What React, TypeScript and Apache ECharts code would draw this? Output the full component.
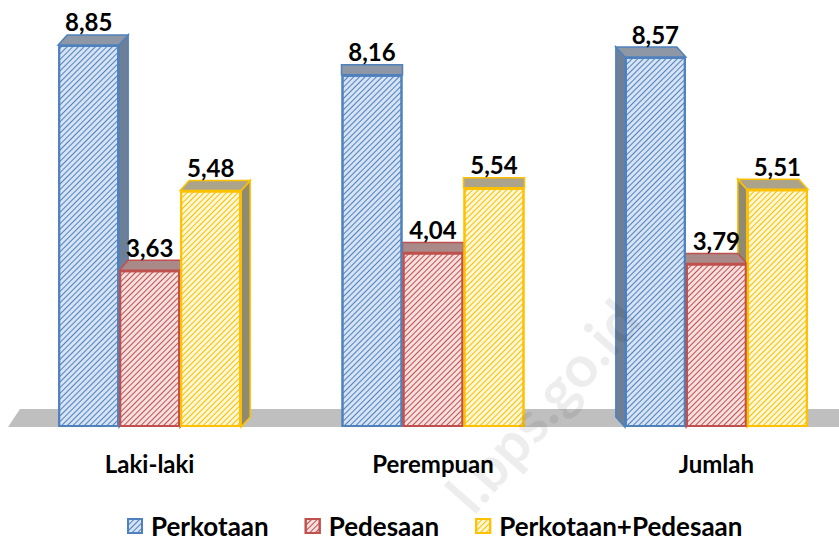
import React, { useEffect, useRef } from 'react';
import * as echarts from 'echarts';

const categories = ['Laki-laki', 'Perempuan', 'Jumlah'];
const seriesNames = ['Perkotaan', 'Pedesaan', 'Perkotaan+Pedesaan'];
const perkotaan = [8.85, 8.16, 8.57];
const pedesaan = [3.63, 4.04, 3.79];
const gabungan = [5.48, 5.54, 5.51];
const allValues = [perkotaan, pedesaan, gabungan];

const FONT = 'Lato, "Open Sans", sans-serif';
const BAR_W = 61;
const DEPTH_DX = [9, 0, -9];
const DEPTH_DY = -10;
const fills = ['#d6e3f4', '#f5e0df', '#fff6d6'];
const stripes = ['#4f81bd', '#c0504d', '#f2c200'];
const borders = ['#4f81bd', '#c0504d', '#ffc000'];
const sideFills = ['#6f7f96', '#9b7b79', '#8f8a70'];
const topFills = ['#8d97a6', '#a98a88', '#aba48a'];

const fmt = (v: number) => v.toFixed(2).replace('.', ',');

function faceGeom(api: any) {
  const c = api.value(0);
  const v = api.value(1);
  const s = api.value(2);
  const base = api.coord([c, 0]);
  const top = api.coord([c, v]);
  const x0 = base[0] - 1.5 * BAR_W + s * BAR_W;
  const x1 = x0 + BAR_W;
  return { c, s, x0, x1, yt: top[1], yb: base[1], dx: DEPTH_DX[c], dy: DEPTH_DY };
}

export default function App() {
  const ref = useRef<HTMLDivElement>(null);
  useEffect(() => {
    document.body.style.margin = '0';
    const chart = echarts.init(ref.current!, undefined, { renderer: 'svg' });
    const faceData: number[][] = [];
    allValues.forEach((arr, s) => arr.forEach((v, c) => faceData.push([c, v, s])));

    const barSeries = allValues.map((arr, s) => ({
      type: 'bar',
      name: seriesNames[s],
      data: arr,
      barWidth: BAR_W,
      barGap: '0%',
      z: 5,
      itemStyle: {
        color: fills[s],
        borderColor: borders[s],
        borderWidth: 2,
        decal: {
          symbol: 'rect',
          symbolSize: 1,
          dashArrayX: [1, 0],
          dashArrayY: [1, 2.6],
          rotation: -Math.PI / 4,
          color: stripes[s],
        },
      },
      label: {
        show: true,
        position: 'top',
        distance: 11,
        formatter: (p: any) => fmt(p.value),
        color: '#000',
        fontFamily: FONT,
        fontWeight: 'bold',
        fontSize: 24,
      },
    }));

    const sideSeries = {
      type: 'custom',
      name: 'side',
      z: 2,
      clip: false,
      silent: true,
      data: faceData,
      renderItem: (_p: any, api: any) => {
        const g = faceGeom(api);
        if (g.dx === 0) return { type: 'group', children: [] };
        const xe = g.dx > 0 ? g.x1 : g.x0;
        return {
          type: 'polygon',
          shape: {
            points: [
              [xe, g.yt],
              [xe + g.dx, g.yt + g.dy],
              [xe + g.dx, g.yb + g.dy],
              [xe, g.yb],
            ],
          },
          style: { fill: sideFills[g.s], stroke: borders[g.s], lineWidth: 1.5 },
        };
      },
    };

    const topSeries = {
      type: 'custom',
      name: 'top',
      z: 3,
      clip: false,
      silent: true,
      data: faceData,
      renderItem: (_p: any, api: any) => {
        const g = faceGeom(api);
        return {
          type: 'polygon',
          shape: {
            points: [
              [g.x0, g.yt],
              [g.x1, g.yt],
              [g.x1 + g.dx, g.yt + g.dy],
              [g.x0 + g.dx, g.yt + g.dy],
            ],
          },
          style: { fill: topFills[g.s], stroke: borders[g.s], lineWidth: 1.5 },
        };
      },
    };

    chart.setOption({
      animation: false,
      backgroundColor: '#ffffff',
      grid: { left: 8, width: 850, top: 38.5, height: 388.5, outerBoundsMode: 'none', containLabel: false },
      xAxis: {
        type: 'category',
        data: categories,
        axisLine: { show: false },
        axisTick: { show: false },
        splitLine: { show: false },
        axisLabel: {
          margin: 24,
          color: '#000',
          fontFamily: FONT,
          fontWeight: 'bold',
          fontSize: 24,
        },
      },
      yAxis: {
        type: 'value',
        min: 0,
        max: 9,
        show: false,
        splitLine: { show: false },
      },
      legend: {
        data: seriesNames,
        left: 127,
        top: 513,
        padding: 0,
        itemWidth: 14,
        itemHeight: 14,
        itemGap: 36,
        icon: 'rect',
        textStyle: {
          color: '#000',
          fontFamily: FONT,
          fontWeight: 'bold',
          fontSize: 26,
          lineHeight: 26,
          padding: [0, 0, 0, 4],
        },
      },
      graphic: [
        {
          type: 'polygon',
          z: -1,
          shape: { points: [[20, 409], [839, 409], [839, 427], [8, 427]] },
          style: { fill: '#bfbfbf' },
        },
        {
          type: 'text',
          z: 100,
          x: 542,
          y: 405,
          rotation: 0.85,
          style: {
            text: 'l.bps.go.id',
            fill: 'rgba(0,0,0,0.07)',
            font: 'bold 58px ' + FONT,
            align: 'center',
            verticalAlign: 'middle',
          },
        },
      ],
      series: [sideSeries, topSeries, ...barSeries],
    });
    return () => chart.dispose();
  }, []);
  return <div ref={ref} style={{ width: 839, height: 544 }} />;
}
